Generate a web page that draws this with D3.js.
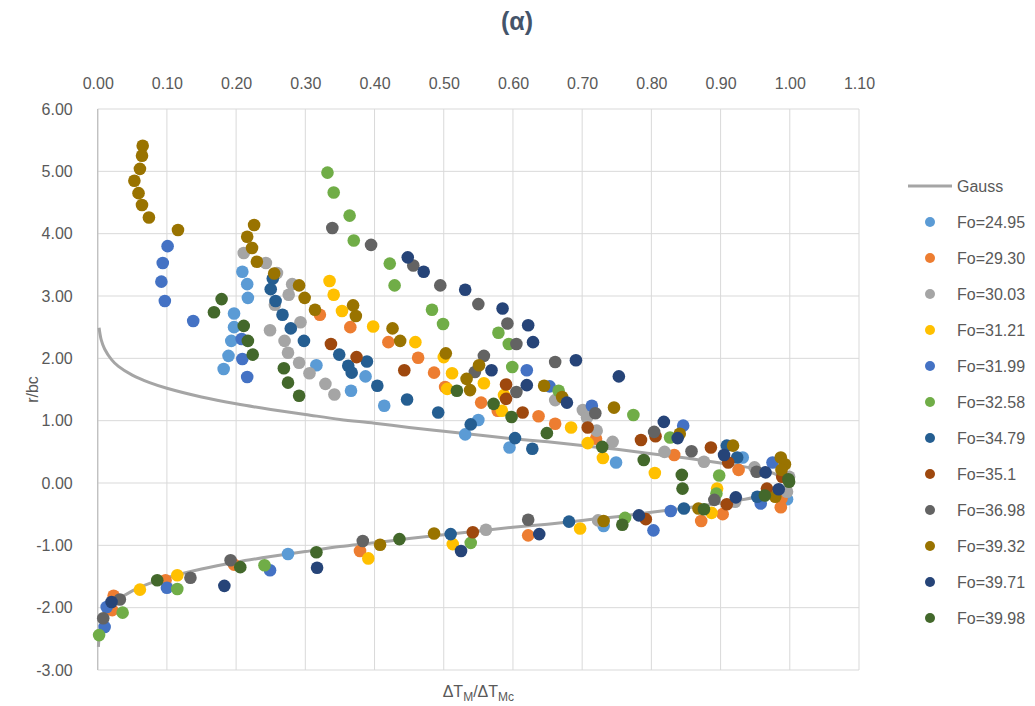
<!DOCTYPE html>
<html><head><meta charset="utf-8">
<script src="https://cdn.jsdelivr.net/npm/d3@7"></script>
<style>body{margin:0;background:#fff}svg{display:block}text{font-family:"Liberation Sans",Arial,sans-serif}</style>
</head><body><svg id="c" width="1035" height="706"></svg>
<script>
// ---------- data ----------
const xTicks = [0,0.1,0.2,0.3,0.4,0.5,0.6,0.7,0.8,0.9,1.0,1.1];
const yTicks = [-3,-2,-1,0,1,2,3,4,5,6];
const seriesNames = ["Fo=24.95","Fo=29.30","Fo=30.03","Fo=31.21","Fo=31.99","Fo=32.58","Fo=34.79","Fo=35.1","Fo=36.98","Fo=39.32","Fo=39.71","Fo=39.98"];

const gaussX = [0.002,0.005,0.01,0.02,0.03,0.05,0.075,0.1,0.15,0.2,0.25,0.3,0.35,0.4,0.45,0.5,0.55,0.6,0.65,0.7,0.75,0.8,0.85,0.9,0.95,0.98,1.0,
                0.98,0.95,0.9,0.85,0.8,0.75,0.7,0.65,0.6,0.55,0.5,0.45,0.4,0.35,0.3,0.25,0.2,0.15,0.1,0.075,0.05,0.03,0.02,0.01,0.005,0.002,0.001];
const gaussY = [2.49,2.30,2.15,1.98,1.87,1.73,1.61,1.52,1.38,1.27,1.18,1.10,1.02,0.96,0.89,0.83,0.77,0.71,0.66,0.60,0.54,0.47,0.40,0.32,0.23,0.14,0.0,
                -0.14,-0.23,-0.32,-0.40,-0.47,-0.54,-0.60,-0.66,-0.71,-0.77,-0.83,-0.89,-0.96,-1.02,-1.10,-1.18,-1.27,-1.38,-1.52,-1.61,-1.73,-1.87,-1.98,-2.15,-2.30,-2.49,-2.63];

const fo2495 = [[0.209,3.39],[0.216,3.19],[0.217,2.97],[0.197,2.72],[0.197,2.50],[0.193,2.28],[0.189,2.04],[0.182,1.83],[0.316,1.89],[0.387,1.71],[0.366,1.48],[0.414,1.24],[0.550,1.01],[0.531,0.78],[0.595,0.57],[0.749,0.33],[0.932,0.41],[0.996,-0.26],[0.731,-0.69],[0.275,-1.14]];
const fo2930 = [[0.321,2.70],[0.365,2.50],[0.420,2.26],[0.463,2.01],[0.486,1.77],[0.502,1.54],[0.554,1.29],[0.578,1.16],[0.637,1.07],[0.661,0.95],[0.720,0.71],[0.833,0.45],[0.926,0.21],[0.988,-0.25],[0.987,-0.39],[0.903,-0.50],[0.872,-0.61],[0.622,-0.84],[0.379,-1.09],[0.197,-1.31],[0.098,-1.56],[0.023,-1.81],[0.021,-2.04]];
const fo3003 = [[0.211,3.69],[0.243,3.53],[0.259,3.37],[0.281,3.19],[0.276,3.02],[0.256,2.86],[0.293,2.58],[0.249,2.45],[0.270,2.28],[0.275,2.09],[0.291,1.93],[0.306,1.76],[0.329,1.59],[0.342,1.42],[0.661,1.33],[0.701,1.17],[0.707,1.05],[0.721,0.84],[0.744,0.66],[0.819,0.50],[0.876,0.34],[0.949,0.25],[0.999,0.10],[0.996,-0.14],[0.921,-0.30],[0.723,-0.60],[0.561,-0.75]];
const fo3121 = [[0.335,3.24],[0.341,3.02],[0.353,2.76],[0.398,2.51],[0.459,2.26],[0.500,2.02],[0.512,1.76],[0.558,1.60],[0.505,1.51],[0.587,1.41],[0.584,1.16],[0.684,0.89],[0.708,0.64],[0.730,0.40],[0.805,0.16],[0.895,-0.09],[0.887,-0.48],[0.697,-0.73],[0.513,-0.98],[0.391,-1.21],[0.115,-1.48],[0.061,-1.71]];
const fo3199 = [[0.101,3.80],[0.094,3.53],[0.092,3.23],[0.097,2.92],[0.138,2.60],[0.208,2.31],[0.209,1.99],[0.216,1.70],[0.620,1.81],[0.653,1.55],[0.714,1.24],[0.846,0.92],[0.975,0.33],[0.958,-0.33],[0.828,-0.45],[0.803,-0.76],[0.249,-1.40],[0.100,-1.68],[0.013,-1.99],[0.010,-2.31]];
const fo3258 = [[0.332,4.98],[0.341,4.66],[0.364,4.29],[0.370,3.89],[0.422,3.52],[0.429,3.17],[0.483,2.78],[0.499,2.55],[0.579,2.41],[0.594,2.23],[0.599,1.86],[0.666,1.48],[0.774,1.09],[0.827,0.73],[0.898,0.12],[0.894,-0.17],[0.762,-0.56],[0.539,-0.96],[0.241,-1.32],[0.115,-1.70],[0.036,-2.08],[0.002,-2.44]];
const fo3479 = [[0.253,3.28],[0.250,3.11],[0.257,2.92],[0.267,2.70],[0.279,2.48],[0.298,2.28],[0.349,2.06],[0.362,1.88],[0.367,1.77],[0.389,1.95],[0.404,1.56],[0.447,1.34],[0.492,1.13],[0.539,0.94],[0.603,0.72],[0.628,0.55],[0.909,0.60],[0.924,0.41],[0.953,-0.22],[0.847,-0.41],[0.681,-0.62],[0.510,-0.82]];
const fo3510 = [[0.337,2.23],[0.374,2.02],[0.443,1.81],[0.590,1.58],[0.590,1.35],[0.614,1.13],[0.708,0.89],[0.785,0.69],[0.806,0.75],[0.886,0.57],[0.911,0.33],[0.989,0.10],[0.967,-0.09],[0.909,-0.34],[0.792,-0.58],[0.542,-0.79]];
const fo3698 = [[0.339,4.09],[0.395,3.82],[0.456,3.49],[0.495,3.17],[0.550,2.87],[0.592,2.56],[0.605,2.23],[0.558,2.04],[0.545,1.78],[0.605,1.46],[0.661,1.94],[0.719,1.12],[0.804,0.82],[0.858,0.51],[0.952,0.18],[0.891,-0.27],[0.622,-0.59],[0.383,-0.93],[0.192,-1.24],[0.134,-1.52],[0.032,-1.87],[0.008,-2.17]];
const fo3932 = [[0.065,5.41],[0.064,5.25],[0.061,5.04],[0.053,4.85],[0.059,4.65],[0.064,4.46],[0.074,4.26],[0.116,4.06],[0.226,4.14],[0.216,3.95],[0.223,3.77],[0.230,3.55],[0.255,3.36],[0.291,3.17],[0.299,2.97],[0.314,2.78],[0.369,2.85],[0.373,2.68],[0.426,2.48],[0.437,2.28],[0.503,2.08],[0.551,1.89],[0.533,1.67],[0.538,1.49],[0.645,1.56],[0.671,1.38],[0.746,1.21],[0.841,0.79],[0.918,0.60],[0.987,0.41],[0.993,0.30],[0.988,0.21],[0.979,-0.22],[0.868,-0.41],[0.731,-0.61],[0.486,-0.81],[0.408,-0.99]];
const fo3971 = [[0.448,3.62],[0.471,3.39],[0.531,3.10],[0.585,2.80],[0.622,2.53],[0.629,2.26],[0.569,1.81],[0.620,1.57],[0.691,1.97],[0.753,1.71],[0.678,1.29],[0.818,0.98],[0.838,0.72],[0.905,0.45],[0.965,0.17],[0.984,-0.10],[0.922,-0.23],[0.782,-0.52],[0.638,-0.82],[0.525,-1.09],[0.317,-1.36],[0.183,-1.65],[0.020,-1.91]];
const fo3998 = [[0.179,2.95],[0.168,2.74],[0.211,2.52],[0.217,2.28],[0.224,2.06],[0.269,1.84],[0.275,1.61],[0.291,1.40],[0.519,1.48],[0.572,1.27],[0.598,1.06],[0.649,0.80],[0.729,0.58],[0.789,0.37],[0.844,0.13],[0.845,-0.09],[0.998,0.06],[0.999,0.02],[0.964,-0.20],[0.876,-0.42],[0.758,-0.67],[0.436,-0.90],[0.316,-1.11],[0.206,-1.35],[0.086,-1.56]];

const seriesData = [fo2495,fo2930,fo3003,fo3121,fo3199,fo3258,fo3479,fo3510,fo3698,fo3932,fo3971,fo3998];
const palette = ["#5B9BD5","#ED7D31","#A5A5A5","#FFC000","#4472C4","#70AD47","#255E91","#9E480E","#636363","#997300","#264478","#43682B"];

// ---------- chart ----------
const svg = d3.select("#c");
const L = 97.7, R = 859, T = 109, B = 670;
const x = d3.scaleLinear().domain([0,1.1]).range([L,R]);
const y = d3.scaleLinear().domain([-3,6]).range([B,T]);
const f2 = d3.format(".2f");
const fmt = d => f2(d).replace("\u2212","-");
const txt = "#595959";

// gridlines
svg.append("g").selectAll("line").data(xTicks).join("line")
  .attr("x1",d=>x(d)).attr("x2",d=>x(d)).attr("y1",y(6)).attr("y2",y(-3))
  .attr("stroke","#D9D9D9").attr("stroke-width",1);
svg.append("g").selectAll("line").data(yTicks).join("line")
  .attr("x1",x(0)).attr("x2",x(1.1)).attr("y1",d=>y(d)).attr("y2",d=>y(d))
  .attr("stroke","#D9D9D9").attr("stroke-width",1);
svg.append("line").attr("x1",x(0)).attr("x2",x(0)).attr("y1",y(6)).attr("y2",y(-3))
  .attr("stroke","#BFBFBF").attr("stroke-width",1.3);

// axes (labels)
const gx = svg.append("g").attr("transform",`translate(0,${T})`)
  .call(d3.axisTop(x).tickValues(xTicks).tickFormat(fmt).tickSize(0).tickPadding(20));
const gy = svg.append("g").attr("transform",`translate(${L},0)`)
  .call(d3.axisLeft(y).tickValues(yTicks).tickFormat(fmt).tickSize(0).tickPadding(25));
[gx,gy].forEach(g=>{
  g.select(".domain").remove();
  g.selectAll("text").attr("fill",txt).style("font-size","16px").style("font-family",'"Liberation Sans",Arial,sans-serif');
});

// Gauss line
const gaussPts = gaussX.map((v,i)=>[v,gaussY[i]]);
svg.append("path").datum(gaussPts)
  .attr("d",d3.line().x(d=>x(d[0])).y(d=>y(d[1])).curve(d3.curveCatmullRom))
  .attr("fill","none").attr("stroke","#A5A5A5").attr("stroke-width",3);

// points
seriesData.forEach((s,i)=>{
  svg.append("g").selectAll("circle").data(s).join("circle")
    .attr("cx",d=>x(d[0])).attr("cy",d=>y(d[1])).attr("r",6.3)
    .attr("fill",palette[i]);
});

// title
svg.append("text").attr("x",517).attr("y",30).attr("text-anchor","middle")
  .attr("fill","#44546A").style("font-size","25px").style("font-weight","bold").text("(α)");

// axis titles
svg.append("text").attr("transform",`translate(38,${(T+B)/2}) rotate(-90)`)
  .attr("text-anchor","middle").attr("fill",txt).style("font-size","16px").text("r/bc");
const xl = svg.append("text").attr("x",(L+R)/2).attr("y",697).attr("text-anchor","middle")
  .attr("fill",txt).style("font-size","16px");
xl.append("tspan").text("ΔT");
xl.append("tspan").attr("dy",4).style("font-size","12px").text("M");
xl.append("tspan").attr("dy",-4).text("/ΔT");
xl.append("tspan").attr("dy",4).style("font-size","12px").text("Mc");

// legend
const lg = svg.append("g");
lg.append("line").attr("x1",908).attr("x2",952).attr("y1",186).attr("y2",186)
  .attr("stroke","#A5A5A5").attr("stroke-width",3);
lg.append("text").attr("x",957).attr("y",186).attr("dy","0.35em").attr("fill",txt)
  .style("font-size","16px").text("Gauss");
seriesNames.forEach((n,i)=>{
  const yy = 222 + i*36;
  lg.append("circle").attr("cx",930).attr("cy",yy).attr("r",5).attr("fill",palette[i]);
  lg.append("text").attr("x",957).attr("y",yy).attr("dy","0.35em").attr("fill",txt)
    .style("font-size","16px").text(n);
});
</script></body></html>
